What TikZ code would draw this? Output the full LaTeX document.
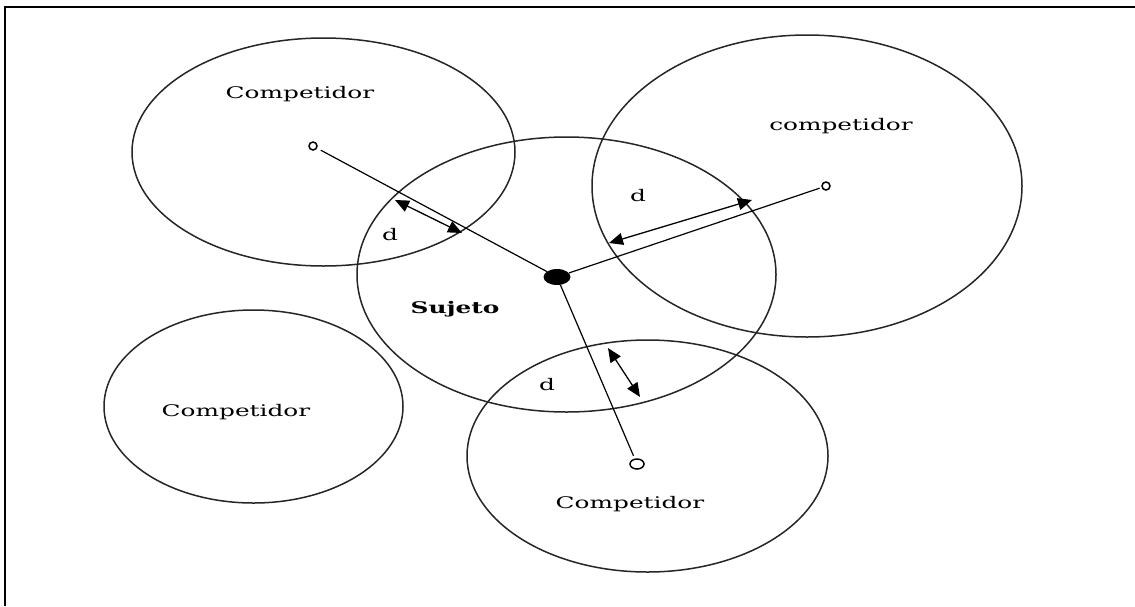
\documentclass[tikz,border=0pt]{standalone}
\usepackage{fontspec}
\newfontfamily\lblfont[FakeStretch=1.55]{DejaVu Serif}
\usepackage{tikz}
\usetikzlibrary{arrows.meta,positioning,shapes.geometric}
\definecolor{cline}{HTML}{262626}
\tikzset{
  zona/.style={ellipse,draw=cline,line width=1.5pt,inner sep=0pt},
  comp/.style={font=\lblfont\fontsize{16}{18}\selectfont,inner sep=0pt,anchor=base},
  suj/.style={comp,font=\lblfont\bfseries\fontsize{16}{18}\selectfont},
  hole/.style={circle,draw,line width=1.5pt,minimum size=8pt,inner sep=0pt},
  dot/.style={ellipse,fill=black,minimum width=27pt,minimum height=16pt,inner sep=0pt},
  link/.style={line width=1.2pt},
  darr/.style={{Triangle[length=14pt,width=12pt]}-{Triangle[length=14pt,width=12pt]},line width=1.3pt},
}
\begin{document}
\begin{tikzpicture}[x=1pt,y=-1pt]
  \useasboundingbox (0,0) rectangle (1135,606);
  \fill[white] (0,0) rectangle (1135,606);
  % marco
  \draw[line width=1.5pt] (5,606) -- (5,7) -- (1135,7);
  % zonas
  \node[zona,minimum width=383pt,minimum height=228pt] (z1) at (323.5,152) {};
  \node[zona,minimum width=430pt,minimum height=302pt] (z2) at (807,186) {};
  \node[zona,minimum width=419pt,minimum height=275pt] (zs) at (566.5,274.5) {};
  \node[zona,minimum width=299pt,minimum height=193pt] (z4) at (253.5,406.5) {};
  \node[zona,minimum width=361pt,minimum height=232pt] (z5) at (647.5,456) {};
  % textos
  \node[comp] (t1) at (300,98) {Competidor};
  \node[comp] (t2) at (841,130) {competidor};
  \node[suj] (ts) at (455,313) {Sujeto};
  \node[comp] (t4) at (236,416) {Competidor};
  \node[comp] (t5) at (630,508) {Competidor};
  % centros
  \node[hole] (o1) at (313,146) {};
  \node[hole] (o2) at (826,186) {};
  \node[hole,ellipse,minimum width=14pt,minimum height=10pt] (o5) at (637,464) {};
  \node[dot] (s) at (557,277) {};
  \draw[link,shorten <=4pt] (o1) -- (s);
  \draw[link,shorten <=2pt] (o2) -- (s);
  \draw[link,shorten <=3pt] (o5) -- (s);
  % distancias
  \coordinate (a1) at (395,200); \coordinate (b1) at (462,233);
  \coordinate (a2) at (609,243); \coordinate (b2) at (752,200);
  \coordinate (a3) at (608,348); \coordinate (b3) at (640,397);
  \draw[darr] (a1) -- (b1);
  \draw[darr] (a2) -- (b2);
  \draw[darr] (a3) -- (b3);
  \node[comp] (d1) at (390,240) {d};
  \node[comp] (d2) at (638,201) {d};
  \node[comp] (d3) at (547,390) {d};
\end{tikzpicture}
\end{document}
